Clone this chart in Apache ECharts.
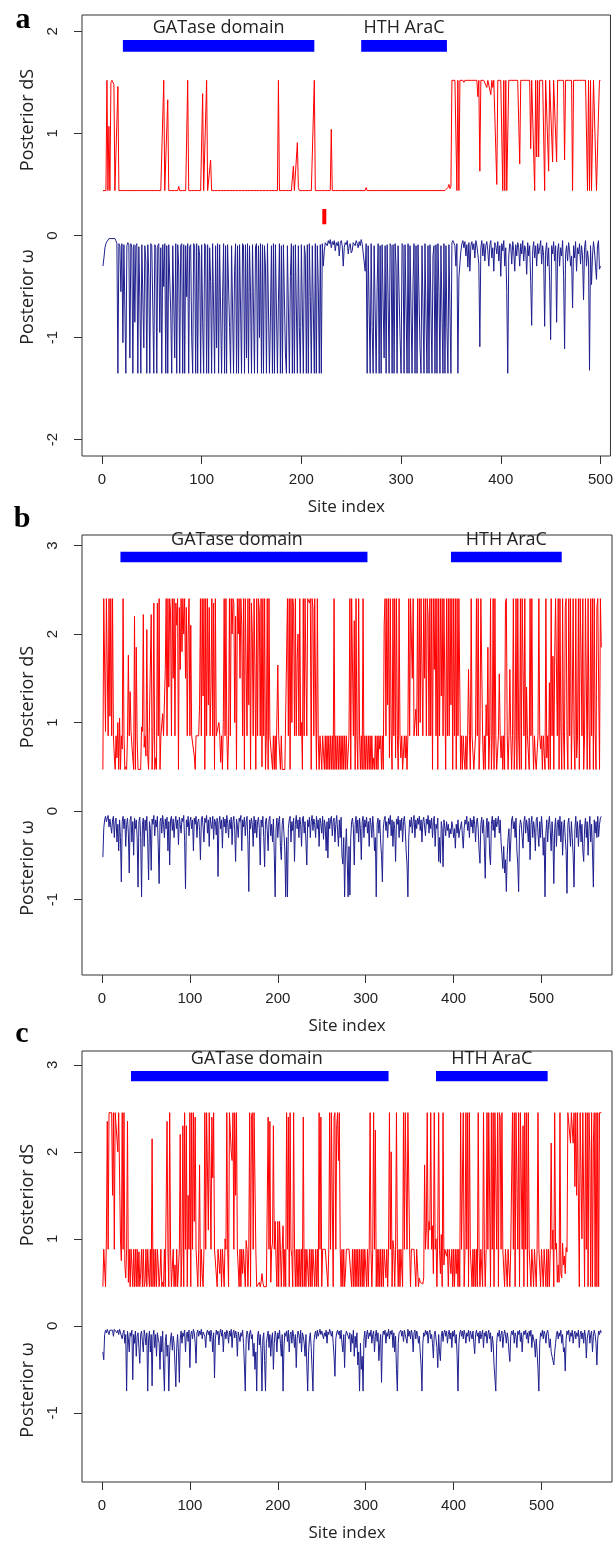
<!DOCTYPE html>
<html>
<head>
<meta charset="utf-8">
<title>Posterior dS and omega per site</title>
<script src="https://cdn.jsdelivr.net/npm/echarts@6/dist/echarts.min.js"></script>
<style>
  html, body { margin: 0; padding: 0; background: #fff; }
  #chart { width: 616px; height: 1543px; }
</style>
</head>
<body>
<div id="chart"></div>
<script>
// ---- panel a : posterior dS (red) and posterior omega (blue), sites 1..500
const aDs = [
  0.44,0.44,0.44,0.44,1.52,0.44,1.07,0.44,1.5,1.52,1.52,1.48,0.44,0.44,0.44,1.46,0.44,0.44,0.44,0.44,
  0.44,0.44,0.44,0.44,0.44,0.44,0.44,0.44,0.44,0.44,0.44,0.44,0.44,0.44,0.44,0.44,0.44,0.44,0.44,0.44,
  0.44,0.44,0.44,0.44,0.44,0.44,0.44,0.44,0.44,0.44,0.44,0.44,0.44,0.44,0.44,0.44,0.44,0.44,0.44,0.44,
  0.44,1.52,0.44,0.44,0.44,1.33,0.44,0.44,0.44,0.44,0.44,0.44,0.44,0.44,0.44,0.44,0.48,0.44,0.44,0.44,
  0.44,0.44,0.44,0.44,0.44,1.52,0.44,0.44,0.44,0.44,0.44,0.44,0.44,0.44,0.44,0.44,0.44,0.44,0.44,0.44,
  1.39,0.44,0.44,0.44,1.52,0.44,0.44,0.44,0.74,0.44,0.44,0.44,0.44,0.44,0.44,0.44,0.44,0.44,0.44,0.44,
  0.44,0.44,0.44,0.44,0.44,0.44,0.44,0.44,0.44,0.44,0.44,0.44,0.44,0.44,0.44,0.44,0.44,0.44,0.44,0.44,
  0.44,0.44,0.44,0.44,0.44,0.44,0.44,0.44,0.44,0.44,0.44,0.44,0.44,0.44,0.44,0.44,0.44,0.44,0.44,0.44,
  0.44,0.44,0.44,0.44,0.44,0.44,0.44,0.44,0.44,0.44,0.44,0.44,0.44,0.44,0.44,0.44,1.52,0.44,0.44,0.44,
  0.44,0.44,0.44,0.44,0.44,0.44,0.44,0.44,0.44,0.44,0.44,0.68,0.44,0.44,0.44,0.91,0.47,0.44,0.44,0.44,
  0.44,0.44,0.44,0.44,0.44,0.44,0.44,0.44,0.44,0.44,0.44,0.44,1.52,0.44,0.44,0.44,0.44,0.44,0.44,0.44,
  0.44,0.44,0.44,0.44,0.44,0.44,0.44,0.44,0.44,1.04,0.44,0.44,0.44,0.44,0.44,0.44,0.44,0.44,0.44,0.44,
  0.44,0.44,0.44,0.44,0.44,0.44,0.44,0.44,0.44,0.44,0.44,0.44,0.44,0.44,0.44,0.44,0.44,0.44,0.44,0.44,
  0.44,0.44,0.44,0.44,0.47,0.44,0.44,0.44,0.44,0.44,0.44,0.44,0.45,0.44,0.44,0.44,0.44,0.44,0.44,0.44,
  0.44,0.44,0.44,0.44,0.44,0.44,0.44,0.44,0.44,0.44,0.44,0.44,0.44,0.44,0.44,0.44,0.44,0.44,0.44,0.44,
  0.44,0.44,0.44,0.44,0.44,0.44,0.44,0.44,0.44,0.44,0.44,0.44,0.44,0.44,0.44,0.44,0.44,0.44,0.44,0.44,
  0.44,0.44,0.44,0.44,0.44,0.44,0.44,0.44,0.44,0.44,0.44,0.44,0.44,0.44,0.44,0.44,0.44,0.44,0.44,0.44,
  0.44,0.44,0.44,0.44,0.44,0.44,0.47,0.5,0.46,0.48,1.52,1.52,1.52,1.52,1.52,0.44,1.52,0.44,1.52,1.52,
  1.52,1.52,1.5,1.52,1.52,1.52,1.52,1.52,1.52,1.52,1.52,1.52,1.52,1.52,1.52,1.52,1.36,1.52,0.63,1.52,
  1.52,1.52,1.52,1.52,1.52,1.45,1.52,1.52,1.52,1.38,1.52,1.45,1.52,1.52,1.52,0.5,1.52,1.52,1.52,1.52,
  1.52,0.44,1.52,0.44,1.52,0.44,0.44,1.52,1.52,1.52,1.52,1.52,1.52,1.52,1.52,1.52,1.52,1.52,0.70,1.52,
  1.52,1.52,1.52,1.52,1.52,1.52,1.52,1.52,1.52,0.85,1.52,1.52,1.52,0.44,1.52,0.77,1.52,0.77,1.52,1.52,
  1.52,1.52,1.52,0.44,1.52,1.52,1.52,0.63,1.52,1.52,1.52,0.72,1.52,1.52,1.52,0.72,1.52,1.52,1.52,1.52,
  1.52,1.52,1.52,0.74,1.52,1.52,1.52,1.52,1.52,1.52,1.52,0.44,1.52,1.52,1.52,1.52,1.52,1.52,1.52,1.52,
  1.52,1.52,1.52,1.52,1.52,1.52,0.44,1.52,0.44,1.52,0.44,1.0,1.52,1.52,1.52,0.44,0.44,1.2,1.52,1.52
];
const aW = [
  -0.30,-0.22,-0.12,-0.08,-0.06,-0.05,-0.03,-0.04,-0.02,-0.03,-0.02,-0.04,-0.03,-0.05,
  -0.08,-1.35,-0.08,-0.1,-0.55,-0.08,-1.05,-0.09,-0.08,-1.35,-0.1,-0.07,-0.09,-1.2,-0.08,-0.12,-1.35,-0.09,-0.85,-0.1,
  -0.08,-1.35,-0.11,-0.6,-1.35,-0.09,-0.08,-1.1,-0.1,-0.25,-1.35,-0.09,-0.4,-1.35,-0.08,-0.1,-0.7,-1.35,-0.09,-0.12,
  -1.35,-0.1,-0.08,-0.95,-0.12,-1.35,-0.09,-0.5,-0.08,-1.35,-0.1,-1.35,-0.09,-0.08,-0.75,-1.35,-0.1,-0.09,-1.2,-0.08,
  -1.35,-0.09,-0.3,-1.35,-0.1,-0.08,-1.35,-0.09,-1.35,-0.1,-0.6,-0.08,-1.35,-0.11,-0.09,-1.0,-1.35,-0.08,-0.1,-1.35,
  -0.08,-1.35,-0.1,-0.2,-1.35,-0.09,-0.85,-1.35,-0.08,-0.1,-1.35,-0.09,-1.35,-0.12,-0.45,-1.35,-0.08,-0.09,-1.35,-0.1,
  -1.1,-0.08,-1.35,-0.09,-0.1,-1.35,-0.6,-0.08,-1.35,-0.1,-1.35,-0.09,-0.08,-0.9,-1.35,-0.1,-0.09,-1.35,-0.35,-0.08,
  -1.35,-0.1,-1.35,-0.09,-0.7,-1.35,-0.08,-0.1,-1.35,-0.09,-1.2,-0.08,-1.35,-0.1,-0.55,-1.35,-0.09,-0.08,-1.35,-0.11,
  -0.08,-1.35,-0.1,-1.0,-0.08,-1.35,-0.09,-1.35,-0.1,-0.3,-1.35,-0.08,-0.09,-1.35,-0.8,-0.1,-1.35,-0.08,-1.35,-0.09,
  -0.1,-1.35,-0.65,-0.08,-1.35,-0.1,-1.35,-0.09,-0.08,-1.15,-1.35,-0.1,-0.09,-1.35,-0.4,-0.08,-1.35,-0.1,-1.35,-0.09,
  -0.08,-1.35,-0.1,-0.9,-1.35,-0.09,-0.08,-1.35,-0.1,-0.2,-1.35,-0.09,-1.35,-0.08,-0.6,-1.35,-0.1,-0.09,-1.35,-0.08,
  -1.35,-0.1,-0.5,-1.35,-0.09,-1.35,-0.08,-0.3,-0.15,-0.07,-0.06,-0.1,
  -0.05,-0.08,-0.04,-0.12,-0.06,-0.09,-0.05,-0.15,-0.07,-0.1,-0.06,-0.2,-0.08,-0.05,-0.1,-0.3,-0.12,-0.07,-0.09,-0.05,
  -0.18,-0.1,-0.08,-0.17,-0.15,-0.07,-0.06,-0.1,-0.05,-0.08,-0.12,-0.06,-0.1,-0.04,-0.08,-0.07,-0.09,
  -0.35,-0.08,-1.35,-0.1,-0.09,-1.35,-0.08,-0.9,-1.35,-0.1,-0.09,-1.35,-0.5,-0.08,-1.35,-0.1,-1.35,-0.09,-0.08,-1.2,
  -0.1,-1.35,-0.09,-0.6,-1.35,-0.08,-0.1,-1.35,-0.09,-1.35,-0.08,-0.3,-1.35,-0.1,-0.09,-1.0,-1.35,-0.08,-0.1,-1.35,
  -0.09,-0.7,-1.35,-0.08,-1.35,-0.1,-0.09,-1.35,-0.45,-0.08,-1.35,-0.1,-1.35,-0.09,-0.08,-1.1,-1.35,-0.1,-0.09,-1.35,
  -0.08,-0.8,-1.35,-0.1,-1.35,-0.09,-0.08,-1.35,-0.2,-0.1,-1.35,-0.09,-1.35,-0.08,-0.55,-1.35,-0.1,-0.09,-1.35,-0.08,
  -1.35,-0.1,-0.9,-1.35,-0.09,-0.08,-1.35,-0.07,-0.05,-0.06,-0.1,-0.3,-0.08,-1.35,
  -0.41,-0.4,-0.15,-0.08,-0.05,-0.12,-0.06,-0.2,-0.09,-0.31,-0.07,-0.35,-0.1,-0.06,-0.14,-0.08,-0.22,-0.05,-0.1,-0.18,
  -0.28,-1.09,-0.12,-0.05,-0.2,-0.08,-0.25,-0.1,-0.06,-0.15,-0.3,-0.09,-0.05,-0.22,-0.12,-0.35,-0.07,-0.1,-0.18,-0.06,
  -0.25,-0.1,-0.4,-0.08,-0.15,-0.05,-0.3,-0.12,-0.55,-1.35,-0.2,-0.08,-0.1,-0.28,-0.06,-0.15,-0.35,-0.09,-0.2,-0.07,
  -0.12,-0.3,-0.08,-0.18,-0.05,-0.25,-0.1,-0.14,-0.38,-0.07,-0.2,-0.1,-0.45,-0.88,-0.15,-0.06,-0.22,-0.1,-0.3,-0.08,
  -0.18,-0.12,-0.05,-0.28,-0.1,-0.2,-0.89,-0.15,-0.07,-0.3,-0.12,-0.45,-1.02,-0.1,-0.18,-0.06,-0.25,-0.1,-0.85,-0.15,
  -0.08,-0.3,-0.12,-0.2,-0.05,-0.4,-1.11,-0.18,-0.1,-0.25,-0.07,-0.15,-0.3,-0.2,-0.71,-0.1,-0.22,-0.06,-0.35,-0.12,
  -0.18,-0.08,-0.28,-0.1,-0.2,-0.63,-0.12,-0.05,-0.3,-0.15,-0.25,-1.32,-0.1,-0.48,-0.2,-0.06,-0.15,-0.3,-0.43,-0.1,
  -0.05,-0.33,-0.3
];

// ---- panel b, sites 1..568
const bDs = [
  0.47,2.40,2.40,0.9,2.40,2.40,0.85,2.40,1.07,2.40,0.85,2.40,0.85,0.62,0.47,0.85,0.6,1.0,0.47,1.05,
  0.47,0.85,0.7,2.40,0.85,0.47,0.5,0.47,0.85,1.76,0.85,1.35,0.9,0.9,0.6,0.47,2.2,0.47,1.85,0.8,
  0.47,0.47,0.47,0.47,0.95,0.9,2.22,0.72,0.85,0.62,2.05,0.62,0.47,0.47,0.47,2.22,0.47,0.85,2.35,0.47,
  0.6,0.47,2.35,0.85,2.40,0.47,0.85,0.85,1.1,0.85,0.85,1.6,2.40,0.85,2.40,1.4,2.40,2.25,0.85,2.40,
  1.5,2.40,0.85,2.35,2.10,2.40,0.47,2.30,1.6,2.40,1.8,2.40,2.0,2.40,1.5,2.3,0.85,2.0,2.40,0.85,
  2.1,0.85,0.85,0.85,0.62,0.47,0.85,0.85,0.85,0.85,1.2,2.40,0.85,2.40,1.3,2.40,0.47,2.40,0.85,2.40,
  1.2,2.30,0.85,1.4,2.40,0.85,2.35,0.47,2.40,0.85,0.85,0.85,1.0,0.85,0.55,0.85,0.47,1.0,2.40,0.85,
  2.40,0.85,0.47,0.85,2.40,0.85,2.40,2.0,2.40,2.35,1.0,2.20,0.47,2.40,2.0,2.40,1.5,2.40,2.1,0.85,
  2.40,0.47,2.40,2.40,0.85,2.40,1.2,2.40,0.47,2.35,2.0,0.85,2.40,1.6,0.47,2.40,0.85,2.40,2.25,0.85,
  2.40,0.5,2.40,0.85,2.40,0.47,0.85,2.40,0.47,2.40,0.85,0.85,0.85,0.47,0.85,0.47,0.85,0.47,0.47,1.65,
  0.85,0.85,0.47,0.85,0.47,0.47,0.47,0.47,0.47,0.47,2.40,0.85,2.40,0.47,2.40,1.0,2.40,2.30,0.85,2.40,
  0.85,1.7,2.0,0.85,2.40,0.85,1.0,0.47,2.40,0.85,2.40,2.40,0.85,2.40,2.40,2.35,2.40,0.47,2.40,2.30,
  0.85,2.40,1.3,0.47,2.40,0.85,0.47,0.85,0.85,0.47,0.85,0.85,0.47,0.85,0.47,0.85,0.47,0.85,0.47,0.85,
  0.47,0.85,0.47,2.40,0.47,0.85,0.47,0.85,0.47,0.85,0.47,0.85,0.47,0.85,0.47,0.85,0.47,0.85,0.47,0.47,
  0.85,2.40,0.47,2.40,2.40,0.85,2.15,0.47,2.40,0.85,0.47,2.40,0.85,0.47,0.85,0.47,2.40,0.47,0.85,0.47,
  0.85,0.47,0.85,0.47,0.85,0.47,0.85,0.47,0.6,0.47,0.85,0.47,0.85,0.47,0.85,0.7,0.85,0.47,0.85,0.47,
  2.1,2.40,0.85,2.40,1.2,2.40,0.6,2.40,0.85,0.47,2.40,0.85,2.40,0.6,2.40,0.85,0.47,2.40,0.85,0.6,
  0.85,0.47,0.47,0.85,0.6,0.85,0.47,0.85,2.40,0.85,2.40,2.40,1.5,2.40,0.85,0.85,1.15,0.85,2.40,0.85,
  2.40,1.0,2.40,2.40,0.85,2.40,1.5,2.40,0.85,2.40,2.2,0.85,2.40,0.85,2.40,0.47,2.40,1.6,2.40,0.85,
  2.40,0.47,2.40,0.85,2.40,1.3,2.40,0.85,2.40,2.40,0.47,2.40,0.85,2.40,0.85,2.40,1.2,2.40,0.47,2.40,
  0.85,2.40,0.47,2.40,0.85,2.40,2.40,0.47,0.85,0.47,0.85,0.6,0.47,0.85,0.47,0.85,1.6,0.85,0.47,2.40,
  0.85,0.85,0.47,0.47,0.85,2.40,0.85,2.40,0.47,0.85,2.40,2.40,0.85,0.47,0.85,0.47,1.2,0.85,1.85,0.47,
  0.85,2.40,0.47,0.85,2.40,0.47,2.40,0.85,0.47,0.47,0.85,1.55,0.85,0.6,0.85,0.47,0.85,0.47,2.35,2.40,
  0.85,0.47,0.85,1.6,0.85,0.47,0.85,2.40,0.47,0.85,2.40,0.47,2.40,0.85,0.47,2.40,0.47,2.40,2.40,0.85,
  2.40,0.47,1.4,0.85,0.85,0.47,2.40,0.85,2.40,0.85,0.47,0.85,0.6,0.47,0.47,0.85,2.40,0.85,0.7,0.85,
  0.47,0.85,0.85,0.47,2.40,0.6,0.85,0.47,1.45,0.47,2.40,0.85,1.75,0.47,1.75,2.40,2.40,0.85,2.40,0.47,
  2.40,1.0,0.47,2.40,0.9,0.47,2.3,2.40,0.85,0.47,2.40,0.85,2.40,0.47,1.2,2.40,0.85,0.47,2.40,0.6,
  0.85,2.40,0.47,2.40,1.8,0.85,2.40,0.47,0.85,2.40,2.40,0.47,2.40,1.0,0.47,2.40,0.85,2.40,0.47,2.40,
  0.9,0.47,2.3,2.40,2.40,0.47,2.40,1.85
];
const bW = [
  -0.52,-0.2,-0.1,-0.06,-0.12,-0.08,-0.05,-0.18,-0.09,-0.07,-0.25,-0.1,-0.06,-0.3,-0.12,-0.08,-0.35,-0.15,-0.45,-0.1,
  -0.3,-0.8,-0.12,-0.06,-0.2,-0.09,-0.4,-0.15,-0.08,-0.25,-0.7,-0.1,-0.06,-0.35,-0.12,-0.5,-0.08,-0.2,-0.1,-0.3,
  -0.86,-0.12,-0.07,-0.3,-0.97,-0.15,-0.08,-0.4,-0.1,-0.22,-0.06,-0.35,-0.78,-0.12,-0.2,-0.67,-0.09,-0.15,-0.05,-0.28,
  -0.1,-0.18,-0.06,-0.4,-0.82,-0.12,-0.08,-0.25,-0.05,-0.15,-0.3,-0.09,-0.2,-0.07,-0.45,-0.12,-0.61,-0.1,-0.06,-0.22,
  -0.09,-0.3,-0.14,-0.06,-0.2,-0.1,-0.38,-0.07,-0.15,-0.25,-0.08,-0.12,-0.05,-0.33,-0.88,-0.1,-0.18,-0.06,-0.28,-0.12,
  -0.07,-0.2,-0.1,-0.45,-0.08,-0.15,-0.06,-0.3,-0.12,-0.09,-0.22,-0.55,-0.1,-0.06,-0.18,-0.35,-0.08,-0.13,-0.05,-0.25,
  -0.1,-0.4,-0.07,-0.15,-0.2,-0.06,-0.32,-0.09,-0.12,-0.27,-0.08,-0.74,-0.15,-0.06,-0.2,-0.1,-0.42,-0.07,-0.18,-0.09,
  -0.25,-0.05,-0.14,-0.3,-0.1,-0.2,-0.07,-0.38,-0.12,-0.06,-0.22,-0.57,-0.09,-0.16,-0.3,-0.08,-0.12,-0.05,-0.45,-0.1,
  -0.18,-0.07,-0.28,-0.12,-0.06,-0.35,-0.91,-0.1,-0.2,-0.08,-0.15,-0.4,-0.06,-0.25,-0.1,-0.3,-0.12,-0.07,-0.2,-0.61,
  -0.1,-0.18,-0.06,-0.3,-0.63,-0.12,-0.08,-0.22,-0.45,-0.1,-0.06,-0.28,-0.15,-0.35,-0.09,-0.5,-0.97,-0.2,-0.08,-0.3,
  -0.12,-0.06,-0.4,-0.55,-0.15,-0.08,-0.25,-0.45,-0.97,-0.3,-0.97,-0.2,-0.1,-0.06,-0.35,-0.12,-0.22,-0.08,-0.57,-0.15,
  -0.05,-0.2,-0.1,-0.3,-0.07,-0.15,-0.4,-0.09,-0.06,-0.25,-0.12,-0.35,-0.61,-0.1,-0.18,-0.07,-0.3,-0.12,-0.05,-0.22,
  -0.09,-0.15,-0.3,-0.06,-0.2,-0.1,-0.4,-0.08,-0.14,-0.25,-0.06,-0.32,-0.1,-0.18,-0.45,-0.12,-0.53,-0.08,-0.2,-0.1,
  -0.06,-0.28,-0.12,-0.08,-0.35,-0.15,-0.05,-0.22,-0.4,-0.1,-0.3,-0.07,-0.5,-0.6,-0.3,-0.97,-0.45,-0.2,-0.55,-0.97,
  -0.4,-0.95,-0.3,-0.12,-0.08,-0.2,-0.61,-0.15,-0.06,-0.25,-0.1,-0.35,-0.08,-0.2,-0.55,-0.12,-0.06,-0.3,-0.1,-0.18,
  -0.07,-0.25,-0.12,-0.4,-0.08,-0.15,-0.3,-0.06,-0.2,-0.45,-0.3,-0.97,-0.15,-0.08,-0.25,-0.1,-0.35,-0.5,-0.8,-0.2,
  -0.1,-0.06,-0.22,-0.12,-0.3,-0.08,-0.15,-0.05,-0.28,-0.1,-0.4,-0.12,-0.2,-0.57,-0.09,-0.15,-0.06,-0.3,-0.1,-0.22,
  -0.08,-0.35,-0.12,-0.06,-0.2,-0.45,-0.6,-0.97,-0.3,-0.1,-0.18,-0.07,-0.25,-0.12,-0.05,-0.3,-0.1,-0.2,-0.08,-0.15,
  -0.06,-0.22,-0.1,-0.35,-0.12,-0.07,-0.18,-0.28,-0.09,-0.15,-0.05,-0.25,-0.1,-0.2,-0.08,-0.3,-0.12,-0.06,-0.4,-0.15,
  -0.2,-0.08,-0.57,-0.3,-0.59,-0.12,-0.2,-0.63,-0.1,-0.18,-0.28,-0.12,-0.22,-0.15,-0.3,-0.2,-0.26,-0.12,-0.18,-0.3,
  -0.2,-0.42,-0.15,-0.25,-0.1,-0.3,-0.22,-0.18,-0.12,-0.28,-0.42,-0.2,-0.1,-0.15,-0.06,-0.22,-0.12,-0.3,-0.08,-0.18,
  -0.1,-0.25,-0.06,-0.15,-0.35,-0.12,-0.08,-0.2,-0.45,-0.59,-0.15,-0.07,-0.25,-0.1,-0.4,-0.76,-0.2,-0.08,-0.3,-0.12,
  -0.5,-0.61,-0.15,-0.06,-0.22,-0.1,-0.3,-0.08,-0.18,-0.12,-0.06,-0.25,-0.1,-0.35,-0.5,-0.65,-0.4,-0.7,-0.55,-0.91,
  -0.5,-0.3,-0.2,-0.57,-0.35,-0.1,-0.06,-0.2,-0.12,-0.3,-0.08,-0.45,-0.6,-0.91,-0.2,-0.1,-0.15,-0.3,-0.42,-0.12,
  -0.06,-0.25,-0.1,-0.18,-0.35,-0.08,-0.55,-0.15,-0.06,-0.3,-0.12,-0.2,-0.45,-0.1,-0.07,-0.25,-0.4,-0.12,-0.3,-0.06,
  -0.2,-0.5,-0.3,-0.97,-0.25,-0.1,-0.35,-0.15,-0.06,-0.22,-0.45,-0.12,-0.3,-0.82,-0.2,-0.08,-0.4,-0.15,-0.1,-0.28,
  -0.06,-0.35,-0.12,-0.5,-0.2,-0.1,-0.3,-0.45,-0.93,-0.15,-0.08,-0.25,-0.4,-0.12,-0.3,-0.5,-0.86,-0.2,-0.06,-0.3,
  -0.12,-0.4,-0.2,-0.1,-0.35,-0.15,-0.45,-0.57,-0.2,-0.08,-0.3,-0.12,-0.5,-0.2,-0.06,-0.35,-0.15,-0.45,-0.86,-0.1,
  -0.25,-0.12,-0.3,-0.06,-0.29,-0.15,-0.08,-0.06
];

// ---- panel c, sites 1..568
const cDs = [
  0.45,0.88,0.88,0.45,1.0,2.35,0.88,2.45,2.45,2.45,2.45,1.5,2.45,0.88,2.45,2.45,2.45,2.0,2.45,2.45,
  1.0,0.75,2.45,0.88,2.45,0.7,0.55,0.88,2.35,0.5,0.88,0.45,0.88,0.7,0.45,0.88,0.45,0.88,0.45,0.88,
  0.45,0.85,0.45,0.6,0.88,0.45,0.88,0.45,0.5,0.88,0.45,0.88,0.6,0.45,0.88,0.45,2.15,0.45,0.88,0.45,
  0.88,0.45,0.88,0.7,0.45,0.6,0.88,0.45,0.5,0.45,0.88,0.45,0.45,2.35,0.88,0.45,2.45,0.88,0.45,0.45,
  0.88,0.45,0.7,0.45,0.88,0.45,0.45,0.88,2.2,0.45,0.88,2.3,0.45,2.45,0.88,2.3,0.45,1.5,0.88,2.45,
  0.45,2.45,0.88,2.45,1.2,2.4,0.88,0.88,0.45,0.88,1.85,0.45,0.88,0.6,0.45,0.88,2.45,0.88,2.45,2.45,
  1.1,2.45,2.45,0.88,2.4,1.7,2.45,0.88,0.88,0.88,0.45,0.88,0.88,0.6,0.88,0.45,0.88,0.88,0.45,1.0,
  0.88,2.45,0.88,0.45,2.45,2.45,2.0,1.9,2.45,0.88,2.45,1.5,2.45,0.88,0.88,0.45,0.88,0.45,0.88,0.6,
  0.88,0.88,0.45,0.98,0.88,0.45,0.88,2.45,0.45,2.4,2.45,0.88,2.45,2.45,0.88,0.45,0.45,0.45,0.5,0.45,
  0.5,0.6,0.5,0.45,0.45,0.45,0.45,0.45,2.4,0.88,2.35,0.5,0.88,0.95,2.3,0.88,1.2,0.75,0.45,1.2,
  0.45,1.2,0.88,0.45,0.88,1.15,0.45,0.88,0.45,2.45,0.88,2.4,0.45,2.45,0.88,0.8,0.45,2.45,0.88,0.45,
  0.88,0.45,0.88,0.45,0.88,0.45,0.88,0.45,2.4,0.45,0.88,0.45,0.88,0.88,0.45,0.88,0.45,0.88,0.45,0.88,
  0.88,0.45,0.88,0.45,0.88,0.45,2.45,0.88,2.4,0.45,0.88,0.88,0.88,0.88,0.88,0.88,0.45,0.88,2.45,0.88,
  2.45,2.45,0.45,2.4,2.45,0.88,2.3,2.45,1.9,2.45,0.88,0.45,0.88,0.45,0.88,0.45,0.6,0.88,0.88,0.88,
  0.88,0.88,0.88,0.45,0.88,0.45,0.88,0.45,0.88,0.45,0.88,0.45,0.88,0.45,0.88,0.45,0.88,0.45,0.88,0.88,
  0.45,0.88,0.45,0.88,2.45,0.88,0.45,0.88,2.45,0.88,2.25,0.45,0.88,0.45,0.88,0.45,0.88,0.45,0.88,0.45,
  0.88,0.88,0.55,0.88,0.45,0.88,2.45,0.88,2.0,0.45,0.98,0.88,0.45,0.88,2.45,0.88,0.45,0.88,0.45,0.88,
  0.88,0.45,2.45,0.88,2.45,2.45,0.88,2.45,2.45,0.88,0.45,0.88,0.88,0.88,0.88,0.88,0.45,0.88,0.88,0.45,
  0.55,0.5,0.48,0.5,0.48,0.55,1.85,0.88,1.1,2.45,0.88,1.2,1.1,2.45,0.88,1.15,0.6,2.45,0.88,1.0,
  0.45,1.05,2.45,0.88,0.6,1.05,0.45,2.45,0.7,0.88,0.88,0.8,0.88,0.45,0.88,0.88,0.6,0.88,0.45,0.88,
  0.45,0.88,0.6,0.88,0.45,0.88,0.45,2.45,0.88,0.88,2.45,0.45,0.88,2.45,0.88,2.45,0.45,2.45,0.88,0.88,
  0.45,0.88,0.45,0.88,0.45,0.88,0.45,2.45,0.88,0.45,0.88,0.88,0.45,2.45,0.88,0.45,0.88,2.45,0.88,2.45,
  2.45,0.45,2.45,0.88,2.45,0.45,2.45,2.45,0.88,2.45,0.45,2.45,2.4,0.88,2.45,0.88,0.88,0.45,0.88,0.88,
  0.45,0.88,0.88,0.45,0.88,0.88,2.45,0.88,2.45,0.45,2.45,2.45,0.88,2.45,0.45,2.45,2.45,0.88,2.3,0.45,
  2.45,0.88,2.45,0.45,2.45,0.88,0.88,0.45,0.88,0.88,0.45,0.88,0.88,0.45,0.88,2.45,0.88,0.88,0.45,0.88,
  0.88,0.45,0.88,0.88,0.45,0.88,0.45,0.88,0.45,0.88,2.1,0.88,1.1,0.45,2.45,0.88,0.95,0.5,0.7,0.5,
  2.45,0.6,0.55,0.95,0.7,0.8,0.6,0.9,0.85,2.45,2.45,2.45,2.1,2.45,2.45,2.1,2.45,1.6,2.45,1.5,
  2.45,2.45,0.45,2.45,2.45,1.0,2.45,2.45,0.45,2.45,0.88,2.45,0.45,2.45,2.0,0.45,2.45,0.45,2.1,2.45,
  0.45,2.45,0.45,2.45,0.45,2.45,2.45,2.45
];
const cW = [
  -0.3,-0.39,-0.1,-0.05,-0.08,-0.04,-0.06,-0.1,-0.05,-0.03,-0.07,-0.05,-0.12,-0.04,-0.06,-0.03,-0.08,-0.05,-0.1,-0.04,
  -0.06,-0.05,-0.15,-0.08,-0.05,-0.2,-0.1,-0.75,-0.06,-0.15,-0.3,-0.08,-0.12,-0.05,-0.62,-0.1,-0.2,-0.06,-0.35,-0.12,
  -0.08,-0.25,-0.43,-0.1,-0.06,-0.18,-0.3,-0.05,-0.12,-0.22,-0.08,-0.75,-0.15,-0.06,-0.3,-0.1,-0.69,-0.12,-0.05,-0.25,
  -0.1,-0.35,-0.08,-0.15,-0.2,-0.5,-0.12,-0.3,-0.06,-0.45,-0.75,-0.18,-0.1,-0.35,-0.22,-0.75,-0.3,-0.15,-0.08,-0.28,
  -0.12,-0.2,-0.45,-0.7,-0.25,-0.1,-0.3,-0.65,-0.15,-0.06,-0.2,-0.08,-0.12,-0.05,-0.3,-0.1,-0.07,-0.18,-0.05,-0.48,
  -0.1,-0.06,-0.15,-0.04,-0.08,-0.2,-0.43,-0.08,-0.05,-0.12,-0.06,-0.1,-0.04,-0.15,-0.07,-0.05,-0.12,-0.25,-0.08,-0.05,
  -0.1,-0.06,-0.18,-0.05,-0.12,-0.3,-0.08,-0.6,-0.15,-0.05,-0.1,-0.06,-0.22,-0.08,-0.04,-0.12,-0.05,-0.3,-0.1,-0.07,
  -0.15,-0.05,-0.09,-0.2,-0.06,-0.12,-0.04,-0.25,-0.08,-0.05,-0.14,-0.06,-0.1,-0.35,-0.07,-0.05,-0.18,-0.08,-0.12,-0.05,
  -0.2,-0.45,-0.75,-0.15,-0.06,-0.1,-0.28,-0.08,-0.05,-0.15,-0.1,-0.35,-0.2,-0.5,-0.3,-0.75,-0.12,-0.06,-0.22,-0.1,
  -0.3,-0.75,-0.15,-0.08,-0.4,-0.75,-0.2,-0.12,-0.06,-0.25,-0.1,-0.35,-0.15,-0.08,-0.5,-0.2,-0.06,-0.12,-0.3,-0.08,
  -0.15,-0.05,-0.2,-0.35,-0.1,-0.75,-0.25,-0.08,-0.12,-0.06,-0.18,-0.05,-0.3,-0.1,-0.07,-0.2,-0.05,-0.12,-0.25,-0.1,
  -0.48,-0.15,-0.06,-0.1,-0.2,-0.05,-0.3,-0.08,-0.12,-0.2,-0.35,-0.1,-0.45,-0.75,-0.3,-0.15,-0.08,-0.25,-0.5,-0.75,
  -0.2,-0.1,-0.06,-0.15,-0.05,-0.12,-0.08,-0.04,-0.1,-0.06,-0.05,-0.15,-0.08,-0.12,-0.05,-0.2,-0.07,-0.1,-0.04,-0.08,
  -0.12,-0.06,-0.2,-0.35,-0.58,-0.15,-0.08,-0.05,-0.1,-0.06,-0.15,-0.05,-0.2,-0.3,-0.1,-0.48,-0.12,-0.06,-0.08,-0.05,
  -0.15,-0.08,-0.3,-0.1,-0.2,-0.05,-0.35,-0.12,-0.25,-0.08,-0.45,-0.3,-0.75,-0.2,-0.5,-0.35,-0.75,-0.15,-0.06,-0.25,
  -0.1,-0.05,-0.15,-0.08,-0.12,-0.05,-0.2,-0.1,-0.06,-0.3,-0.12,-0.05,-0.18,-0.08,-0.4,-0.2,-0.1,-0.65,-0.15,-0.06,
  -0.1,-0.05,-0.2,-0.08,-0.12,-0.04,-0.15,-0.06,-0.1,-0.05,-0.25,-0.08,-0.3,-0.12,-0.5,-0.75,-0.2,-0.08,-0.1,-0.05,
  -0.12,-0.06,-0.18,-0.05,-0.1,-0.08,-0.2,-0.04,-0.12,-0.06,-0.15,-0.05,-0.1,-0.3,-0.08,-0.05,-0.15,-0.06,-0.1,-0.2,
  -0.12,-0.3,-0.45,-0.75,-0.2,-0.08,-0.12,-0.05,-0.1,-0.06,-0.2,-0.08,-0.05,-0.15,-0.1,-0.2,-0.37,-0.1,-0.06,-0.15,
  -0.25,-0.48,-0.1,-0.3,-0.4,-0.12,-0.06,-0.18,-0.08,-0.05,-0.12,-0.06,-0.2,-0.1,-0.05,-0.15,-0.08,-0.25,-0.06,-0.12,
  -0.05,-0.2,-0.1,-0.35,-0.75,-0.2,-0.08,-0.05,-0.12,-0.06,-0.15,-0.05,-0.1,-0.2,-0.08,-0.12,-0.05,-0.18,-0.06,-0.1,
  -0.15,-0.06,-0.2,-0.32,-0.1,-0.05,-0.12,-0.08,-0.2,-0.06,-0.15,-0.1,-0.05,-0.25,-0.08,-0.12,-0.06,-0.2,-0.1,-0.05,
  -0.15,-0.08,-0.3,-0.12,-0.2,-0.45,-0.6,-0.75,-0.2,-0.08,-0.12,-0.05,-0.18,-0.1,-0.06,-0.25,-0.12,-0.05,-0.1,-0.2,
  -0.08,-0.15,-0.3,-0.41,-0.12,-0.06,-0.1,-0.05,-0.2,-0.08,-0.12,-0.25,-0.06,-0.1,-0.05,-0.18,-0.08,-0.3,-0.12,-0.06,
  -0.1,-0.05,-0.15,-0.08,-0.2,-0.06,-0.12,-0.05,-0.25,-0.1,-0.08,-0.2,-0.36,-0.15,-0.3,-0.5,-0.75,-0.2,-0.08,-0.12,
  -0.05,-0.15,-0.06,-0.1,-0.2,-0.08,-0.05,-0.12,-0.25,-0.15,-0.3,-0.35,-0.4,-0.45,-0.3,-0.2,-0.1,-0.06,-0.15,-0.08,
  -0.12,-0.05,-0.2,-0.1,-0.3,-0.25,-0.52,-0.15,-0.06,-0.1,-0.05,-0.18,-0.08,-0.12,-0.05,-0.2,-0.1,-0.06,-0.15,-0.08,
  -0.12,-0.05,-0.25,-0.1,-0.06,-0.15,-0.08,-0.2,-0.05,-0.12,-0.37,-0.15,-0.08,-0.05,-0.2,-0.1,-0.06,-0.3,-0.12,-0.05,
  -0.1,-0.2,-0.45,-0.15,-0.06,-0.1,-0.05,-0.08
];

// domains: [name, first site, last site]
const aDomains = [['GATase domain', 21, 213], ['HTH AraC', 260, 346]];
const bDomains = [['GATase domain', 21, 302], ['HTH AraC', 397, 523]];
const cDomains = [['GATase domain', 33, 326], ['HTH AraC', 380, 507]];
// small red mark under the dS track of panel a: [first site, last site, low, high]
const aMark = [221, 225, 0.11, 0.26];

const siteTicks = [0, 100, 200, 300, 400, 500];
const aYTicks = [-2, -1, 0, 1, 2];
const bcYTicks = [-1, 0, 1, 2, 3];

const RED = '#ff0000';
const BLUE = '#1f1f8f';
const TXT = '#222';

const panels = [
  { letter: 'a', ds: aDs, w: aW, domains: aDomains, yTicks: aYTicks,
    grid: { left: 82, top: 15, width: 530, height: 441 },
    x: [-20, 510], y: [-2.16, 2.16], bar: [1.80, 1.915], labelDx: [0, 0],
    letterPos: [23, 20], dsLabelY: 120, wLabelY: 297 },
  { letter: 'b', ds: bDs, w: bW, domains: bDomains, yTicks: bcYTicks,
    grid: { left: 82, top: 535, width: 530, height: 440 },
    x: [-22.75, 580.2], y: [-1.853, 3.119], bar: [2.81, 2.93], labelDx: [-7, 0],
    letterPos: [22, 519], dsLabelY: 697, wLabelY: 868 },
  { letter: 'c', ds: cDs, w: cW, domains: cDomains, yTicks: bcYTicks,
    grid: { left: 82, top: 1051, width: 530, height: 436 },
    x: [-22.75, 580.2], y: [-1.795, 3.159], bar: [2.81, 2.93], labelDx: [-3, 0],
    letterPos: [22, 1034], dsLabelY: 1195, wLabelY: 1390 }
];

const toPairs = arr => arr.map((v, i) => [i + 1, v]);

const grids = [], xAxes = [], yAxes = [], series = [], graphics = [];

panels.forEach((p, i) => {
  grids.push(Object.assign({ show: true, borderColor: '#333', borderWidth: 1,
    backgroundColor: 'transparent' }, p.grid));

  xAxes.push({
    gridIndex: i, type: 'value', min: p.x[0], max: p.x[1], position: 'bottom',
    axisLine: { show: false, onZero: false }, splitLine: { show: false },
    axisTick: { show: true, customValues: siteTicks, length: 8, lineStyle: { color: '#333' } },
    axisLabel: { customValues: siteTicks, margin: 16, fontSize: 15, color: TXT,
      fontFamily: 'Liberation Sans' },
    name: 'Site index', nameLocation: 'middle', nameGap: 43,
    nameTextStyle: { fontSize: 17, color: TXT, fontFamily: 'Open Sans' }
  });

  yAxes.push({
    gridIndex: i, type: 'value', min: p.y[0], max: p.y[1], position: 'left',
    axisLine: { show: false, onZero: false }, splitLine: { show: false },
    axisTick: { show: true, customValues: p.yTicks, length: 8, lineStyle: { color: '#333' } },
    axisLabel: { customValues: p.yTicks, rotate: 90, margin: 22, fontSize: 15, color: TXT,
      fontFamily: 'Liberation Sans' }
  });

  const areas = p.domains.map((d, k) => [
    { xAxis: d[1], yAxis: p.bar[0], name: d[0], label: { offset: [p.labelDx[k], 0] } },
    { xAxis: d[2], yAxis: p.bar[1] }
  ]);
  if (p.letter === 'a') {
    areas.push([
      { xAxis: aMark[0], yAxis: aMark[2], itemStyle: { color: RED }, label: { show: false } },
      { xAxis: aMark[1], yAxis: aMark[3] }
    ]);
  }

  series.push({
    type: 'line', xAxisIndex: i, yAxisIndex: i, data: toPairs(p.ds),
    showSymbol: false, symbol: 'none', lineStyle: { color: RED, width: 1 },
    itemStyle: { color: RED }, animation: false, silent: true,
    markArea: {
      silent: true,
      itemStyle: { color: '#0000ff', opacity: 1 },
      label: { show: true, position: 'top', distance: 3, fontSize: 18, color: TXT,
        fontFamily: 'Open Sans' },
      data: areas
    }
  });
  series.push({
    type: 'line', xAxisIndex: i, yAxisIndex: i, data: toPairs(p.w),
    showSymbol: false, symbol: 'none', lineStyle: { color: BLUE, width: 1 },
    itemStyle: { color: BLUE }, animation: false, silent: true
  });

  graphics.push({
    type: 'text', x: p.letterPos[0], y: p.letterPos[1],
    style: { text: p.letter, font: 'bold 30px "Liberation Serif"', fill: '#000',
      textAlign: 'center', textVerticalAlign: 'middle', align: 'center', verticalAlign: 'middle' }
  });
  [['Posterior dS', p.dsLabelY], ['Posterior ω', p.wLabelY]].forEach(t => {
    graphics.push({
      type: 'text', x: 28, y: t[1], rotation: Math.PI / 2,
      style: { text: t[0], font: '18px "Open Sans"', fill: TXT,
        textAlign: 'center', textVerticalAlign: 'middle', align: 'center', verticalAlign: 'middle' }
    });
  });
});

const chart = echarts.init(document.getElementById('chart'), null, { renderer: 'canvas' });
chart.setOption({
  animation: false,
  backgroundColor: '#fff',
  grid: grids,
  xAxis: xAxes,
  yAxis: yAxes,
  series: series,
  graphic: graphics
});
</script>
</body>
</html>
